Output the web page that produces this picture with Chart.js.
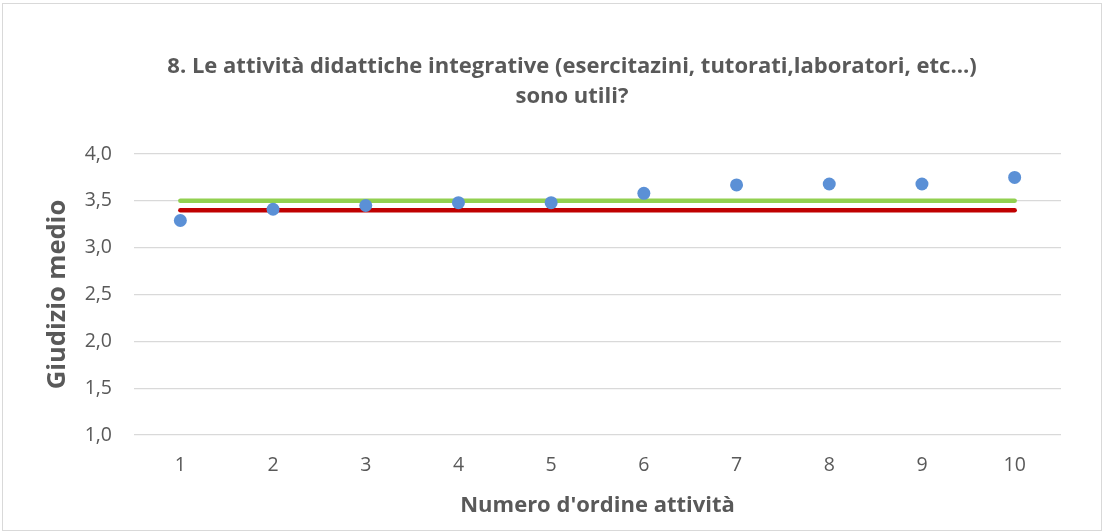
<!DOCTYPE html>
<html>
<head>
<meta charset="utf-8">
<script src="https://cdn.jsdelivr.net/npm/chart.js@4.4.0/dist/chart.umd.min.js"></script>
<style>
  html, body { margin: 0; padding: 0; background: #fff; }
  #wrap { position: relative; width: 1106px; height: 532px; }
  #frame { position: absolute; left: 2px; top: 3px; width: 1100px; height: 528px;
           border: 1px solid #d9d9d9; box-sizing: border-box; }
  canvas { position: absolute; left: 0; top: 0; }
</style>
</head>
<body>
<div id="wrap">
  <div id="frame"></div>
  <canvas id="chart" width="1106" height="532"></canvas>
</div>
<script>
// dati
const categorie = ["1", "2", "3", "4", "5", "6", "7", "8", "9", "10"];
const giudizioMedio = [3.29, 3.41, 3.45, 3.48, 3.48, 3.58, 3.67, 3.68, 3.68, 3.75];
const lineaVerde = [3.5, 3.5, 3.5, 3.5, 3.5, 3.5, 3.5, 3.5, 3.5, 3.5];
const lineaRossa = [3.4, 3.4, 3.4, 3.4, 3.4, 3.4, 3.4, 3.4, 3.4, 3.4];
const yTicks = [1.0, 1.5, 2.0, 2.5, 3.0, 3.5, 4.0];

const titolo = ["8. Le attività didattiche integrative (esercitazini, tutorati,laboratori, etc...)", "sono utili?"];
const titoloX = "Numero d'ordine attività";
const titoloY = "Giudizio medio";

const grigio = "#595959";
const FONT = "'Open Sans', 'DejaVu Sans', sans-serif";

// il titolo è centrato un po' a destra: padding sinistro più largo,
// il titolo dell'asse y viene riportato a sinistra con padding negativo
const PAD_SX = 83;
const PLOT_SX = 134;

const ctx = document.getElementById("chart").getContext("2d");

new Chart(ctx, {
  type: "line",
  data: {
    labels: categorie,
    datasets: [
      {
        label: "Giudizio medio",
        data: giudizioMedio,
        showLine: false,
        pointRadius: 6.5,
        pointBackgroundColor: "#5b90d6",
        pointBorderWidth: 0,
        order: 0
      },
      {
        label: "3,5",
        data: lineaVerde,
        borderColor: "#92d050",
        borderWidth: 4.5,
        borderCapStyle: "round",
        pointRadius: 0,
        order: 1
      },
      {
        label: "3,4",
        data: lineaRossa,
        borderColor: "#c00000",
        borderWidth: 4.5,
        borderCapStyle: "round",
        pointRadius: 0,
        order: 2
      }
    ]
  },
  options: {
    responsive: false,
    animation: false,
    events: [],
    layout: { padding: { left: PAD_SX, right: 45, top: 0, bottom: 0 } },
    plugins: {
      legend: { display: false },
      tooltip: { enabled: false },
      title: {
        display: true,
        text: titolo,
        color: grigio,
        font: { family: FONT, size: 22, weight: "bold", lineHeight: 30 / 22 },
        padding: { top: 52, bottom: 42 }
      }
    },
    scales: {
      x: {
        offset: true,
        grid: { display: false, drawTicks: false },
        border: { display: false },
        ticks: { color: grigio, font: { family: FONT, size: 19.5 }, padding: 19 },
        title: {
          display: true,
          text: titoloX,
          color: grigio,
          font: { family: FONT, size: 22, weight: "bold" },
          padding: { top: 0, bottom: 13 }
        },
        afterFit: function (scale) { scale.height = 97; }
      },
      y: {
        min: 1,
        max: 4,
        afterBuildTicks: function (scale) {
          scale.ticks = yTicks.map(v => ({ value: v }));
        },
        grid: { color: "#d9d9d9", lineWidth: 1.3, drawTicks: false },
        border: { display: false },
        ticks: {
          color: grigio,
          font: { family: FONT, size: 19.5 },
          padding: 22,
          callback: v => v.toFixed(1).replace(".", ",")
        },
        title: {
          display: true,
          text: titoloY,
          color: grigio,
          font: { family: FONT, size: 25.5, weight: "bold" },
          padding: { top: 58 - PAD_SX - 15.3, bottom: 0 }
        },
        afterFit: function (scale) { scale.width = PLOT_SX - PAD_SX; }
      }
    }
  }
});
</script>
</body>
</html>
